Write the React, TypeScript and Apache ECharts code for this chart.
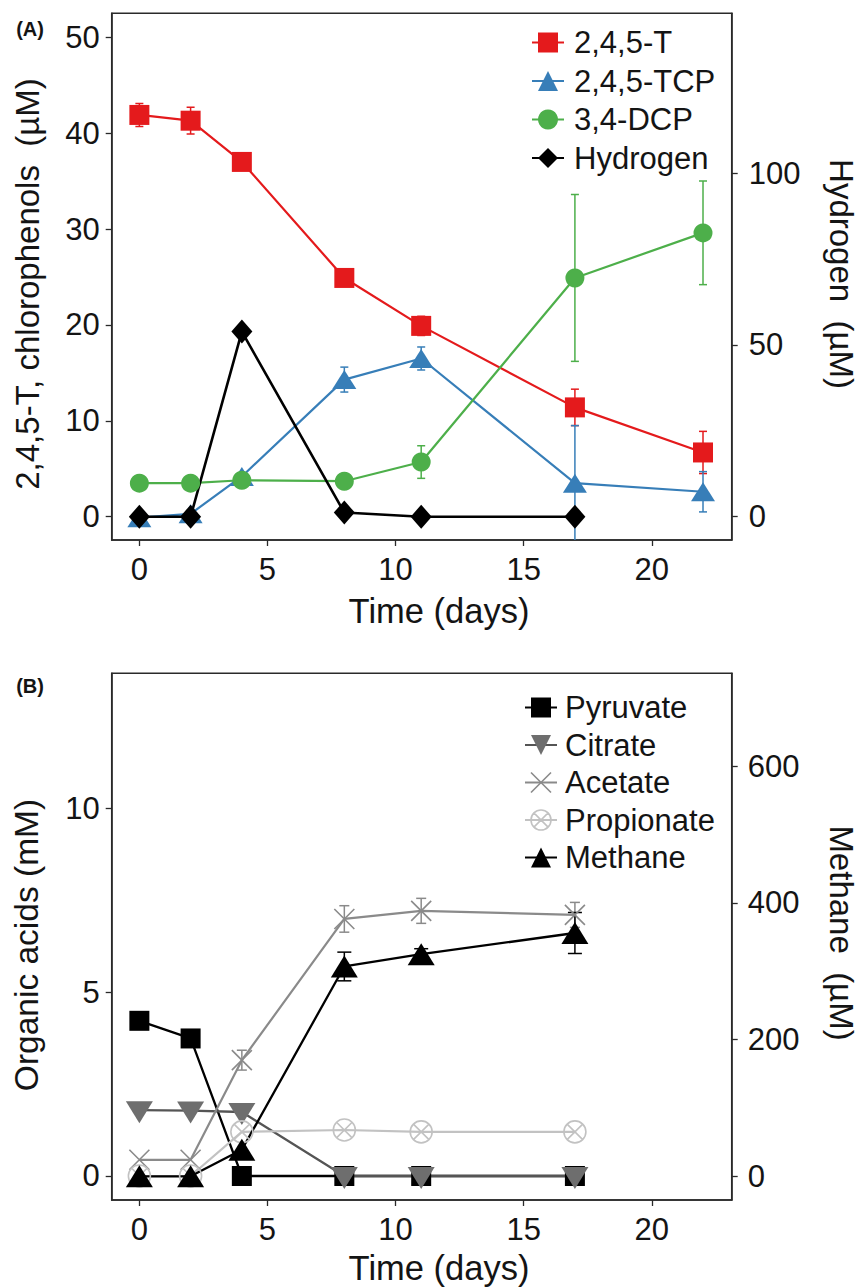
import React, { useEffect, useRef } from 'react';
import * as echarts from 'echarts';

// ---------- Data ----------
const daysA = [0, 2, 4, 8, 11, 17, 22];
const daysH = [0, 2, 4, 8, 11, 17];
const daysB = [0, 2, 4, 8, 11, 17];

const t245 = [41.9, 41.3, 37.0, 24.9, 19.9, 11.4, 6.7];
const t245Err = [1.2, 1.4, 0.3, 0.5, 1.0, 1.9, 2.2];
const tcp = [-0.1, 0.3, 4.2, 14.3, 16.5, 3.5, 2.6];
const tcpErr = [0, 0, 0, 1.3, 1.2, 6.0, 2.1];
const dcp = [3.5, 3.5, 3.8, 3.7, 5.7, 24.9, 29.6];
const dcpErr = [0, 0, 0, 0, 1.7, 8.7, 5.4];
const hydrogen = [0, 0, 53.9, 1.2, 0, 0];

const pyruvate = [4.22, 3.74, 0, 0, 0, 0];
const citrate = [1.79, 1.78, 1.74, 0, 0, 0];
const acetate = [0.44, 0.44, 3.15, 6.99, 7.21, 7.1];
const acetateErr = [0, 0, 0.27, 0.36, 0.34, 0.34];
const propionate = [0, 0, 1.2, 1.25, 1.2, 1.2];
const methane = [0, 0, 38.8, 307, 325, 356];
const methaneErr = [0, 0, 0, 21, 8, 30];

const xTicks = [0, 5, 10, 15, 20];
const yTicksA = [0, 10, 20, 30, 40, 50];
const yTicksH = [0, 50, 100];
const yTicksB = [0, 5, 10];
const yTicksM = [0, 200, 400, 600];

const legendA = ['2,4,5-T', '2,4,5-TCP', '3,4-DCP', 'Hydrogen'];
const legendB = ['Pyruvate', 'Citrate', 'Acetate', 'Propionate', 'Methane'];

// ---------- Styles ----------
const FONT = '"Liberation Sans", Arial, Helvetica, sans-serif';
const TXT = '#141414';
const AX = '#2a2a2a';
const RED = '#e41a1c';
const BLUE = '#377eb8';
const GREEN = '#4daf4a';
const TICK_FS = 31;

const X_SYM = 'path://M0,0L20,20M20,0L0,20';
const CX_SYM = 'path://M0,11a11,11 0 1,0 22,0a11,11 0 1,0 -22,0M3.2,3.2L18.8,18.8M18.8,3.2L3.2,18.8';

const pairs = (xs: number[], ys: number[]) => xs.map((x, i) => [x, ys[i]]);

function errSeries(xs: number[], vals: number[], errs: number[], color: string, xi: number, yi: number, cap: number) {
  const data = xs
    .map((x, i) => [x, vals[i] - errs[i], vals[i] + errs[i], errs[i]])
    .filter((d) => d[3] > 0);
  return {
    type: 'custom',
    xAxisIndex: xi,
    yAxisIndex: yi,
    clip: true,
    silent: true,
    encode: { x: 0, y: [1, 2] },
    data,
    renderItem: (params: any, api: any) => {
      const x = api.value(0);
      const lo = api.coord([x, api.value(1)]);
      const hi = api.coord([x, api.value(2)]);
      const st = { stroke: color, lineWidth: 1.5 };
      return {
        type: 'group',
        children: [
          { type: 'line', shape: { x1: lo[0], y1: lo[1], x2: hi[0], y2: hi[1] }, style: st },
          { type: 'line', shape: { x1: lo[0] - cap, y1: lo[1], x2: lo[0] + cap, y2: lo[1] }, style: st },
          { type: 'line', shape: { x1: hi[0] - cap, y1: hi[1], x2: hi[0] + cap, y2: hi[1] }, style: st },
        ],
      };
    },
  };
}

function xAxis(gi: number) {
  return {
    type: 'value',
    gridIndex: gi,
    min: -1.08,
    max: 23.12,
    axisLine: { show: true, onZero: false, lineStyle: { color: AX, width: 1.5 } },
    axisTick: { show: true, customValues: xTicks, length: 6, lineStyle: { color: AX, width: 1.3 } },
    axisLabel: { customValues: xTicks, fontSize: TICK_FS, color: TXT, fontFamily: FONT, margin: 14 },
    splitLine: { show: false },
  };
}

function yAxis(gi: number, pos: string, min: number, max: number, ticks: number[], margin: number) {
  return {
    type: 'value',
    gridIndex: gi,
    position: pos,
    min,
    max,
    axisLine: { show: true, onZero: false, lineStyle: { color: AX, width: 1.5 } },
    axisTick: { show: true, customValues: ticks, length: 6, lineStyle: { color: AX, width: 1.3 } },
    axisLabel: { customValues: ticks, fontSize: TICK_FS, color: TXT, fontFamily: FONT, margin },
    splitLine: { show: false },
  };
}

function title(text: string, x: number, y: number, rot: number, size = 33, bold = false) {
  return {
    type: 'text',
    x,
    y,
    rotation: rot,
    silent: true,
    style: {
      text,
      fill: TXT,
      font: `${bold ? 'bold ' : ''}${size}px ${FONT}`,
      textAlign: 'center',
      textVerticalAlign: 'middle',
    },
  };
}

export default function App() {
  const ref = useRef<HTMLDivElement>(null);

  useEffect(() => {
    if (!ref.current) return;
    const chart = echarts.init(ref.current, undefined, { renderer: 'svg' });
    const option: any = {
      animation: false,
      backgroundColor: '#ffffff',
      textStyle: { fontFamily: FONT },
      grid: [
        { left: 111.7, top: 13.3, width: 620, height: 526.7, show: true, borderColor: AX, borderWidth: 1.5, backgroundColor: 'transparent' },
        { left: 111.7, top: 673.3, width: 620, height: 526.7, show: true, borderColor: AX, borderWidth: 1.5, backgroundColor: 'transparent' },
      ],
      xAxis: [xAxis(0), xAxis(1)],
      yAxis: [
        yAxis(0, 'left', -2.43, 52.5, yTicksA, 12),
        yAxis(0, 'right', -6.79, 146.6, yTicksH, 17),
        yAxis(1, 'left', -0.653, 13.67, yTicksB, 12),
        yAxis(1, 'right', -34.7, 736, yTicksM, 16),
      ],
      legend: [
        {
          orient: 'vertical',
          left: 526,
          top: 22,
          itemWidth: 32,
          itemHeight: 25,
          itemGap: 7.5,
          data: legendA,
          selectedMode: false,
          textStyle: { fontSize: 31, color: TXT, fontFamily: FONT, padding: [0, 0, 0, 5] },
        },
        {
          orient: 'vertical',
          left: 519,
          top: 687,
          itemWidth: 32,
          itemHeight: 25,
          itemGap: 6.5,
          selectedMode: false,
          data: [
            { name: 'Pyruvate' },
            { name: 'Citrate' },
            { name: 'Acetate', itemStyle: { color: 'rgba(0,0,0,0)', borderColor: '#8a8a8a', borderWidth: 1.6 }, lineStyle: { color: '#8a8a8a', width: 2 } },
            { name: 'Propionate', itemStyle: { color: 'rgba(0,0,0,0)', borderColor: '#c2c2c2', borderWidth: 1.6 }, lineStyle: { color: '#c2c2c2', width: 2 } },
            { name: 'Methane' },
          ],
          textStyle: { fontSize: 31, color: TXT, fontFamily: FONT, padding: [0, 0, 0, 3] },
        },
      ],
      graphic: [
        title('(A)', 30, 29, 0, 20, true),
        title('(B)', 30, 686, 0, 20, true),
        title('2,4,5-T, chlorophenols  (\u00b5M)', 27, 284, Math.PI / 2, 33),
        title('Hydrogen  (\u00b5M)', 841, 274, -Math.PI / 2, 33),
        title('Time (days)', 439, 611, 0, 34.5),
        title('Organic acids (mM)', 26, 945, Math.PI / 2, 33.5),
        title('Methane  (\u00b5M)', 841, 933, -Math.PI / 2, 33),
        title('Time (days)', 439, 1268, 0, 34.5),
      ],
      series: [
        // Panel A
        errSeries(daysA, t245, t245Err, RED, 0, 0, 4),
        {
          name: legendA[0], type: 'line', xAxisIndex: 0, yAxisIndex: 0, data: pairs(daysA, t245),
          symbol: 'rect', symbolSize: 20, lineStyle: { color: RED, width: 2.2 }, itemStyle: { color: RED },
        },
        errSeries(daysA, tcp, tcpErr, BLUE, 0, 0, 4),
        {
          name: legendA[1], type: 'line', xAxisIndex: 0, yAxisIndex: 0, data: pairs(daysA, tcp),
          symbol: 'triangle', symbolSize: [24, 19], lineStyle: { color: BLUE, width: 2.2 }, itemStyle: { color: BLUE },
        },
        errSeries(daysA, dcp, dcpErr, GREEN, 0, 0, 4),
        {
          name: legendA[2], type: 'line', xAxisIndex: 0, yAxisIndex: 0, data: pairs(daysA, dcp),
          symbol: 'circle', symbolSize: 19, lineStyle: { color: GREEN, width: 2.2 }, itemStyle: { color: GREEN },
        },
        {
          name: legendA[3], type: 'line', xAxisIndex: 0, yAxisIndex: 1, data: pairs(daysH, hydrogen),
          symbol: 'diamond', symbolSize: [21, 24], lineStyle: { color: '#000', width: 2.6 }, itemStyle: { color: '#000' },
        },
        // Panel B
        {
          name: legendB[0], type: 'line', xAxisIndex: 1, yAxisIndex: 2, data: pairs(daysB, pyruvate),
          symbol: 'rect', symbolSize: 20, lineStyle: { color: '#000', width: 2.3 }, itemStyle: { color: '#000' },
        },
        {
          name: legendB[1], type: 'line', xAxisIndex: 1, yAxisIndex: 2, data: pairs(daysB, citrate),
          symbol: 'triangle', symbolRotate: 180, symbolSize: [27, 22], symbolOffset: [0, 2],
          lineStyle: { color: '#555555', width: 2.3 }, itemStyle: { color: '#6e6e6e' },
        },
        errSeries(daysB, acetate, acetateErr, '#8a8a8a', 1, 2, 5),
        {
          name: legendB[2], type: 'line', xAxisIndex: 1, yAxisIndex: 2, data: pairs(daysB, acetate),
          symbol: X_SYM, symbolSize: 20, lineStyle: { color: '#8a8a8a', width: 2.2 },
          itemStyle: { color: 'rgba(0,0,0,0)', borderColor: '#8a8a8a', borderWidth: 1.6 },
        },
        {
          name: legendB[3], type: 'line', xAxisIndex: 1, yAxisIndex: 2, data: pairs(daysB, propionate),
          symbol: CX_SYM, symbolSize: 22, lineStyle: { color: '#c2c2c2', width: 2.2 },
          itemStyle: { color: 'rgba(0,0,0,0)', borderColor: '#c2c2c2', borderWidth: 1.6 },
        },
        errSeries(daysB, methane, methaneErr, '#000', 1, 3, 7),
        {
          name: legendB[4], type: 'line', xAxisIndex: 1, yAxisIndex: 3, data: pairs(daysB, methane),
          symbol: 'triangle', symbolSize: [27, 22], lineStyle: { color: '#000', width: 2.3 }, itemStyle: { color: '#000' },
        },
      ],
    };
    chart.setOption(option);
    return () => chart.dispose();
  }, []);

  return (
    <div
      ref={ref}
      style={{ position: 'absolute', left: 0, top: 0, width: 861, height: 1287, background: '#fff' }}
    />
  );
}
